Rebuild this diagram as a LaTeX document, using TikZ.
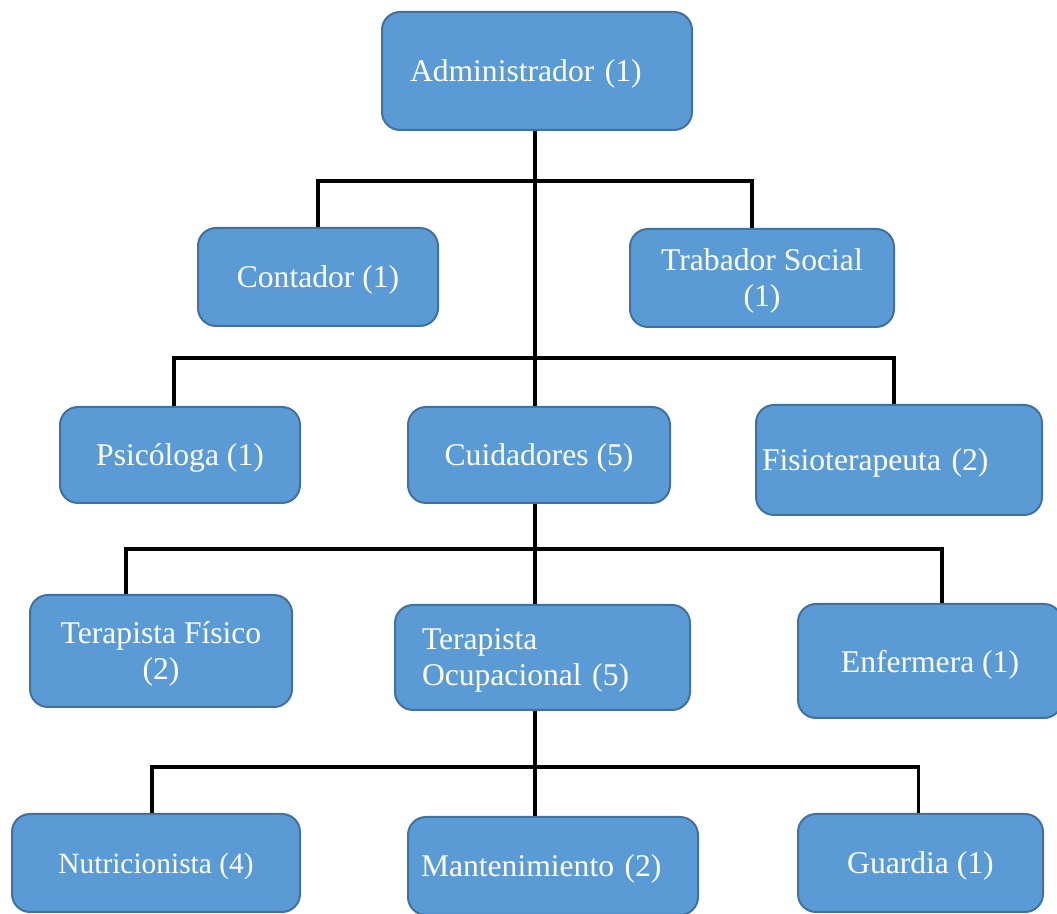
\documentclass[tikz,border=0pt]{standalone}
\usepackage{fontspec}
\setmainfont{Liberation Serif}
\definecolor{cargo}{HTML}{5B9BD5}
\definecolor{cargoborde}{HTML}{41719C}

\begin{document}
\begin{tikzpicture}[x=0.5pt, y=-0.5pt,
every node/.style = {rectangle, rounded corners=9pt, draw=cargoborde, line width=1pt,
                     fill=cargo, text=white, align=center, inner sep=0pt, text depth=0pt,
                     font=\fontsize{15.8}{18}\selectfont},
bus/.style = {line width=1.7pt, draw=black}]
\useasboundingbox (0,0) rectangle (1057,914);
% puestos del organigrama
\node[minimum width=155pt, minimum height=59pt, text width=127pt, inner xsep=14pt, align=left] (admin) at (537,71) {Administrador (1)};
\node[minimum width=120pt, minimum height=49pt] (cont) at (318,277) {Contador (1)};
\node[minimum width=132pt, minimum height=49pt] (trab) at (762,278) {Trabador Social \\ (1)};
\node[minimum width=120pt, minimum height=48pt] (psic) at (180,455) {Psicóloga (1)};
\node[minimum width=131pt, minimum height=48pt] (cuid) at (539,455) {Cuidadores (5)};
\node[minimum width=143pt, minimum height=55pt, text width=137pt, align=left] (fisio) at (899,460) {Fisioterapeuta (2)};
\node[minimum width=131pt, minimum height=56pt] (terfis) at (161,651) {Terapista Físico \\ (2)};
\node[minimum width=147.5pt, minimum height=52.5pt, text width=120.5pt, align=left, text depth=18pt] (terocu) at (542.5,657.5) {Terapista \\ Ocupacional (5)};
\node[minimum width=132pt, minimum height=57pt] (enf) at (930,661) {Enfermera (1)};
\node[minimum width=144pt, minimum height=49pt, font=\fontsize{14.7}{17}\selectfont] (nutri) at (156,863) {Nutricionista (4)};
\node[minimum width=145pt, minimum height=49pt, text width=132pt, inner xsep=6.5pt, align=left] (mant) at (553,866) {Mantenimiento (2)};
\node[minimum width=122.5pt, minimum height=49pt] (guard) at (920.5,863) {Guardia (1)};
% lineas de mando
\coordinate (spine) at (535,0);
\coordinate (bus1) at (535,181);
\coordinate (bus2) at (535,358);
\coordinate (bus3) at (535,549);
\coordinate (bus4) at (535,767);
\draw[bus] (spine |- admin.south) -- (spine |- cuid.north);
\draw[bus] (spine |- cuid.south) -- (spine |- terocu.north);
\draw[bus] (spine |- terocu.south) -- (spine |- mant.north);
\draw[bus] (cont.north) |- (bus1) -| ([xshift=-5pt]trab.north);
\draw[bus] ([xshift=-3pt]psic.north) |- (bus2) -| ([xshift=-2.5pt]fisio.north);
\draw[bus] ([xshift=-17.5pt]terfis.north) |- (bus3) -| ([xshift=6pt]enf.north);
\draw[bus] ([xshift=-2pt]nutri.north) |- (bus4) -| ([xshift=-1pt]guard.north);
\end{tikzpicture}
\end{document}
